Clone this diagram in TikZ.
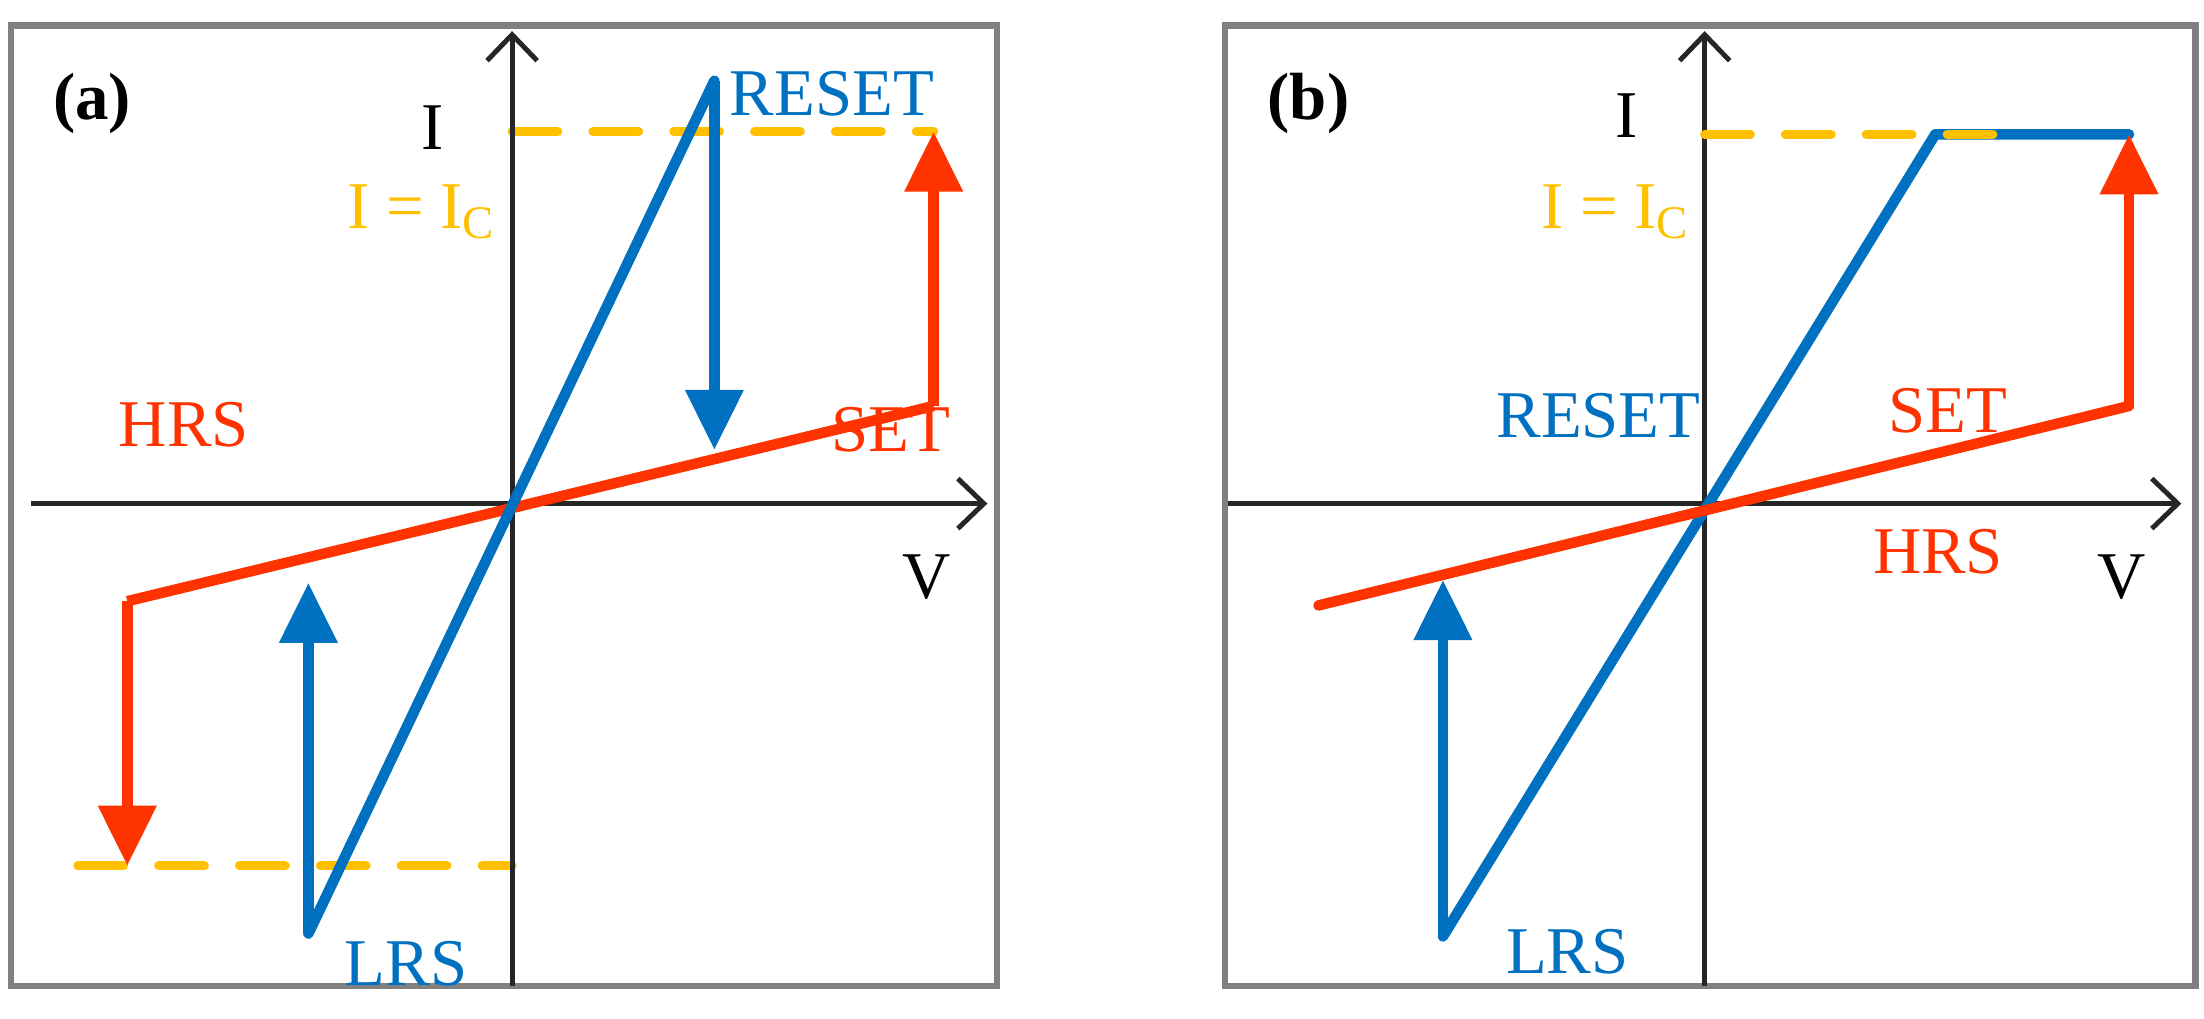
\documentclass[tikz,border=0pt]{standalone}
\usepackage{fontspec}
\setmainfont{Liberation Serif}
\usetikzlibrary{arrows.meta,positioning}
\definecolor{ivblue}{HTML}{0070C0}
\definecolor{ivred}{HTML}{FF3300}
\definecolor{ivgold}{HTML}{FFC000}
\begin{document}
\begin{tikzpicture}
[
x=0.014146cm, y=-0.014146cm,
frame/.style={draw=gray, line width=1.8pt},
axis/.style={line width=1.4pt, black!85, -{Straight Barb[length=2.6mm,width=5mm,line width=1.4pt]}},
curve-r/.style={ivred, line width=3pt, line join=miter},
curve-b/.style={ivblue, line width=3pt, line join=round, line cap=round},
jump-r/.style={curve-r, -{Triangle[length=6mm,width=5.6mm]}},
jump-b/.style={curve-b, line cap=butt, -{Triangle[length=6mm,width=5.6mm]}},
limit/.style={ivgold, line width=2.6pt, line cap=round, dash pattern=on 13pt off 10pt},
text-k/.style={black, font=\fontsize{19}{22}\selectfont},
text-r/.style={ivred, font=\fontsize{19}{22}\selectfont},
text-b/.style={ivblue, font=\fontsize{19}{22}\selectfont},
text-y/.style={ivgold, font=\fontsize{19}{22}\selectfont}
]
\useasboundingbox (0,0) rectangle (1558,720);

% panel (a)
\draw [frame] (8,18) rectangle (705,697);
\coordinate (a-o)   at (362,356);
\coordinate (a-hr)  at (660,287);
\coordinate (a-hl)  at (90,425);
\coordinate (a-top) at (505,57);
\coordinate (a-bot) at (218,660);
\draw [limit] (362,93) -- (660,93);
\draw [limit] (55,612) -- (362,612);
\draw [axis] (22,356) -- (698,356);
\draw [axis] (362,697) -- (362,22);
\draw [curve-r] (a-hl) -- (a-hr);
\draw [jump-r] (a-hr) -- (660,93);
\draw [jump-r] (a-hl) -- (90,612);
\draw [curve-b] (a-bot) -- (a-top);
\draw [jump-b] (a-top) -- (505,318);
\draw [jump-b] (a-bot) -- (218,412);
\node (a-tag)   [text-k, font=\fontsize{19}{22}\selectfont\bfseries] at (65,73) {(a)};
\node (a-i)     [text-k] at (306,90)  {I};
\node (a-v)     [text-k] at (655,408) {V};
\node (a-reset) [text-b] at (588,66)  {RESET};
\node (a-ic)    [text-y] at (298,150) {I = I\textsubscript{C}};
\node (a-hrs)   [text-r] at (130,300) {HRS};
\node (a-set)   [text-r] at (630,304) {SET};
\node (a-lrs)   [text-b] at (287,681) {LRS};

% panel (b)
\draw [frame] (866,18) rectangle (1552,697);
\coordinate (b-o)   at (1205,356);
\coordinate (b-hr)  at (1505,287);
\coordinate (b-hl)  at (932,428);
\coordinate (b-knee) at (1368,95);
\coordinate (b-bot) at (1020,662);
\draw [axis] (868,356) -- (1542,356);
\draw [axis] (1205,697) -- (1205,22);
\draw [curve-b] (b-bot) -- (b-knee) -- (1505,95);
\draw [limit] (1205,95) -- (1432,95);
\draw [curve-r, line cap=round] (b-hl) -- (b-hr);
\draw [jump-r] (b-hr) -- (1505,95);
\draw [jump-b] (b-bot) -- (1020,410);
\node (b-tag)   [text-k, font=\fontsize{19}{22}\selectfont\bfseries] at (925,73) {(b)};
\node (b-i)     [text-k] at (1150,82)  {I};
\node (b-v)     [text-k] at (1500,408) {V};
\node (b-ic)    [text-y] at (1142,150) {I = I\textsubscript{C}};
\node (b-reset) [text-b] at (1130,294) {RESET};
\node (b-set)   [text-r] at (1377,290) {SET};
\node (b-hrs)   [text-r] at (1370,390) {HRS};
\node (b-lrs)   [text-b] at (1108,673) {LRS};
\end{tikzpicture}
\end{document}
